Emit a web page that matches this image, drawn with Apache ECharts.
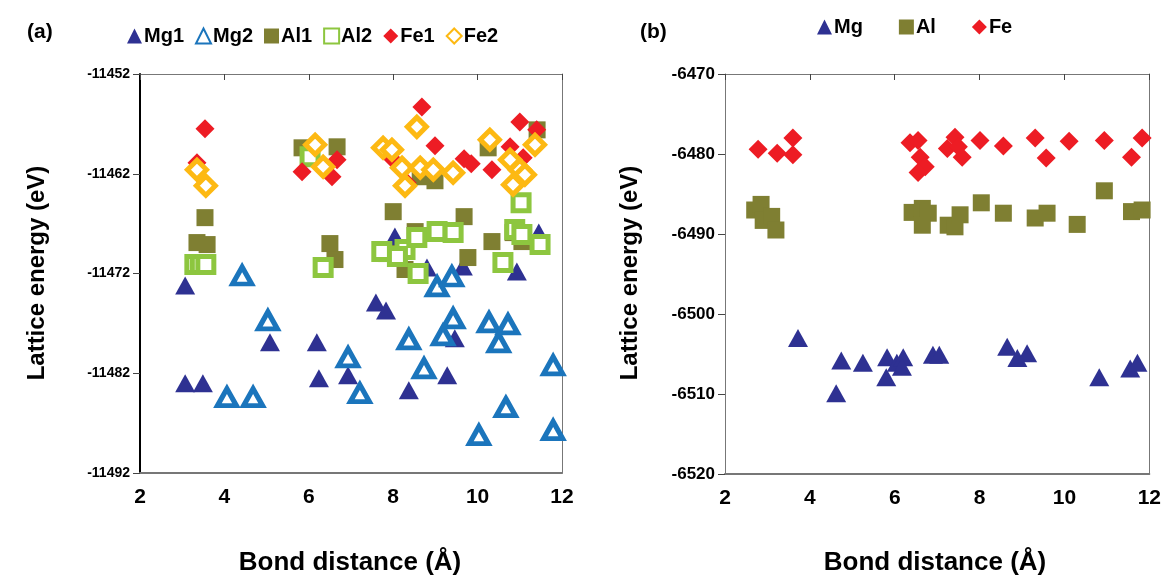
<!DOCTYPE html>
<html>
<head>
<meta charset="utf-8">
<script src="https://cdn.jsdelivr.net/npm/echarts@6/dist/echarts.min.js"></script>
<style>
  html, body { margin: 0; padding: 0; background: #fff; }
  #main { width: 1164px; height: 578px; }
</style>
</head>
<body>
<div id="main"></div>
<script>
// panel (a): bond distance (Å) vs lattice energy (eV)
var mg1 = [[3.07, -11473.2], [5.08, -11478.9], [6.19, -11478.9], [3.07, -11483], [3.49, -11483],
  [6.24, -11482.5], [6.93, -11482.2], [8.8, -11471.4], [9.65, -11471.3], [10.93, -11471.8],
  [7.59, -11474.9], [7.83, -11475.7], [9.46, -11478.5], [9.28, -11482.2], [8.37, -11483.7],
  [8.04, -11468.3], [11.45, -11467.9]];
var mg2 = [[4.42, -11472.2], [5.03, -11476.7], [4.06, -11484.4], [4.68, -11484.4], [6.93, -11480.4],
  [7.21, -11484], [9.04, -11473.3], [9.39, -11472.3], [9.42, -11476.5], [9.18, -11478.2],
  [8.37, -11478.6], [10.27, -11476.9], [10.72, -11477.1], [10.5, -11478.9], [8.73, -11481.5],
  [11.79, -11481.2], [10.67, -11485.4], [10.03, -11488.2], [11.79, -11487.7]];
var al1 = [[3.54, -11466.4], [3.35, -11468.9], [3.59, -11469.1], [5.84, -11459.4], [6.67, -11459.3],
  [6.5, -11469], [6.62, -11470.6], [8.64, -11462.3], [8.99, -11462.7], [11.41, -11457.6],
  [10.25, -11459.4], [8.0, -11465.8], [9.68, -11466.3], [8.52, -11467.8], [10.34, -11468.8],
  [9.77, -11470.4], [8.28, -11471.6], [10.84, -11467.9], [11.05, -11468.8], [7.85, -11470]];
var al2 = [[3.3, -11471.1], [3.43, -11471.1], [3.56, -11471.1], [6.03, -11460.3], [6.34, -11471.4],
  [11.03, -11464.9], [7.73, -11469.8], [8.28, -11469.6], [8.56, -11468.4], [9.04, -11467.8],
  [9.42, -11467.9], [8.59, -11472], [10.6, -11470.9], [10.88, -11467.6], [11.05, -11468.1],
  [11.48, -11469.1], [8.1, -11470.3]];
var fe1 = [[3.54, -11457.5], [3.35, -11460.9], [3.59, -11463.1], [5.84, -11461.8], [6.67, -11460.6],
  [6.55, -11462.3], [8.68, -11455.3], [8.99, -11459.2], [9.68, -11460.5], [9.85, -11461],
  [8.0, -11460.6], [8.33, -11462.9], [11.0, -11456.8], [11.4, -11457.6], [10.77, -11459.3],
  [10.34, -11461.6], [11.08, -11460.4]];
var fe2 = [[3.35, -11461.6], [3.56, -11463.2], [6.15, -11459.1], [6.34, -11461.3], [8.56, -11457.3],
  [7.76, -11459.4], [7.97, -11459.6], [8.21, -11461.4], [8.28, -11463.2], [8.64, -11461.4],
  [8.95, -11461.6], [9.42, -11461.9], [11.36, -11459.1], [10.29, -11458.6], [10.77, -11460.6],
  [11.0, -11461.6], [11.12, -11462.1], [10.84, -11463.1]];

// panel (b)
var mg = [[3.72, -6503], [4.74, -6505.8], [4.62, -6509.9], [5.25, -6506.1], [5.82, -6505.4],
  [5.8, -6507.9], [6.05, -6506.1], [6.2, -6505.4], [6.17, -6506.6], [6.9, -6505.1], [7.05, -6505.1],
  [8.65, -6504.1], [8.89, -6505.5], [9.12, -6504.9], [10.82, -6507.9], [11.55, -6506.8], [11.72, -6506.1]];
var al = [[2.7, -6487], [2.85, -6486.3], [2.9, -6488.3], [3.1, -6487.8], [3.2, -6489.5],
  [6.41, -6487.3], [6.65, -6486.8], [6.79, -6487.4], [6.65, -6488.9], [7.26, -6488.9], [7.42, -6489.1],
  [7.54, -6487.6], [8.04, -6486.1], [8.56, -6487.4], [9.31, -6488], [9.59, -6487.4], [10.3, -6488.8],
  [10.94, -6484.6], [11.58, -6487.2], [11.83, -6487]];
var fe = [[2.78, -6479.4], [3.23, -6479.9], [3.6, -6478], [3.6, -6480.1], [6.36, -6478.6],
  [6.55, -6478.3], [6.6, -6480.4], [6.72, -6481.6], [6.55, -6482.3], [7.42, -6477.9], [7.24, -6479.3],
  [7.5, -6479.1], [7.59, -6480.4], [8.01, -6478.3], [8.56, -6479], [9.31, -6478], [9.57, -6480.5],
  [10.11, -6478.4], [10.94, -6478.3], [11.58, -6480.4], [11.83, -6478]];

var xTicks = [2, 4, 6, 8, 10, 12];

var FONT = '"Liberation Sans", Arial, sans-serif';
var NAVY = '#2e3192', BLUE = '#1b75bc', OLIVE = '#7f7f32', GREEN = '#8dc63f', RED = '#ed1c24', GOLD = '#fdb913';

function xAxes(gi) {
  return [{
    gridIndex: gi, type: 'value', min: xTicks[0], max: xTicks[xTicks.length - 1], interval: 2,
    axisLine: { lineStyle: { color: '#777', width: 2 } },
    axisTick: { show: false }, splitLine: { show: false },
    axisLabel: { margin: 14, fontFamily: FONT, fontWeight: 'bold', fontSize: 21, color: '#000' }
  }, {
    gridIndex: gi, type: 'value', position: 'top', min: xTicks[0], max: xTicks[xTicks.length - 1], interval: 2,
    axisLine: { lineStyle: { color: '#777', width: 1 } },
    axisTick: { inside: true, length: 6, lineStyle: { color: '#444' } },
    axisLabel: { show: false }, splitLine: { show: false }
  }];
}

function yAxes(gi, min, max, fs, lineColor) {
  return [{
    gridIndex: gi, type: 'value', min: min, max: max, interval: 10,
    axisLine: { lineStyle: { color: lineColor, width: gi === 0 ? 2 : 1 } },
    axisTick: { length: 7, lineStyle: { color: '#444' } },
    splitLine: { show: false },
    axisLabel: { margin: 10, fontFamily: FONT, fontWeight: 'bold', fontSize: fs, color: '#000',
      formatter: function (v) { return String(v); } }
  }, {
    gridIndex: gi, type: 'value', position: 'right', min: min, max: max, interval: 10,
    axisLine: { lineStyle: { color: '#777', width: 1 } },
    axisTick: { show: false }, axisLabel: { show: false }, splitLine: { show: false }
  }];
}

function filled(name, data, symbol, size, color, xi, yi) {
  return { name: name, type: 'scatter', xAxisIndex: xi, yAxisIndex: yi, data: data,
    symbol: symbol, symbolSize: size, itemStyle: { color: color, opacity: 1 } };
}
function hollow(name, data, symbol, size, color, xi, yi) {
  return { name: name, type: 'scatter', xAxisIndex: xi, yAxisIndex: yi, data: data,
    symbol: symbol, symbolSize: size,
    itemStyle: { color: '#fff', borderColor: color, borderWidth: 5, opacity: 1 } };
}

var chart = echarts.init(document.getElementById('main'));
var option = {
  backgroundColor: '#fff',
  animation: false,
  grid: [
    { left: 140, top: 74, width: 422, height: 399 },
    { left: 725, top: 74, width: 426, height: 400 }
  ],
  xAxis: xAxes(0).concat(xAxes(1)),
  yAxis: yAxes(0, -11492, -11452, 14, '#000').concat(yAxes(1, -6520, -6470, 17, '#777')),
  legend: [{
    left: 122, top: 21, itemWidth: 15, itemHeight: 15, itemGap: 11,
    data: ['Mg1', 'Mg2', 'Al1', 'Al2', 'Fe1', 'Fe2'],
    textStyle: { fontFamily: FONT, fontWeight: 'bold', fontSize: 20, color: '#000', padding: [0, 0, 0, -3] }
  }, {
    left: 812, top: 12, itemWidth: 15, itemHeight: 15, itemGap: 36,
    data: ['Mg', 'Al', 'Fe'],
    textStyle: { fontFamily: FONT, fontWeight: 'bold', fontSize: 20, color: '#000', padding: [0, 0, 0, -3] }
  }],
  graphic: [
    { type: 'text', left: 27, top: 22, style: { text: '(a)', font: 'bold 21px ' + FONT, fill: '#000' } },
    { type: 'text', left: 640, top: 22, style: { text: '(b)', font: 'bold 21px ' + FONT, fill: '#000' } },
    { type: 'text', x: 37, y: 273, rotation: Math.PI / 2,
      style: { text: 'Lattice energy (eV)', font: 'bold 24px ' + FONT, fill: '#000', align: 'center', verticalAlign: 'middle' } },
    { type: 'text', x: 630, y: 273, rotation: Math.PI / 2,
      style: { text: 'Lattice energy (eV)', font: 'bold 24px ' + FONT, fill: '#000', align: 'center', verticalAlign: 'middle' } },
    { type: 'text', x: 350, y: 563,
      style: { text: 'Bond distance (Å)', font: 'bold 26px ' + FONT, fill: '#000', align: 'center', verticalAlign: 'middle' } },
    { type: 'text', x: 935, y: 563,
      style: { text: 'Bond distance (Å)', font: 'bold 26px ' + FONT, fill: '#000', align: 'center', verticalAlign: 'middle' } }
  ],
  series: [
    filled('Mg1', mg1, 'triangle', [20, 18], NAVY, 0, 0),
    hollow('Mg2', mg2, 'triangle', [19, 17], BLUE, 0, 0),
    filled('Al1', al1, 'rect', 17, OLIVE, 0, 0),
    hollow('Al2', al2, 'rect', 16, GREEN, 0, 0),
    filled('Fe1', fe1, 'diamond', 19, RED, 0, 0),
    hollow('Fe2', fe2, 'diamond', 19, GOLD, 0, 0),
    filled('Mg', mg, 'triangle', [20, 18], NAVY, 2, 2),
    filled('Al', al, 'rect', 17, OLIVE, 2, 2),
    filled('Fe', fe, 'diamond', 19, RED, 2, 2)
  ]
};
chart.setOption(option);
</script>
</body>
</html>
